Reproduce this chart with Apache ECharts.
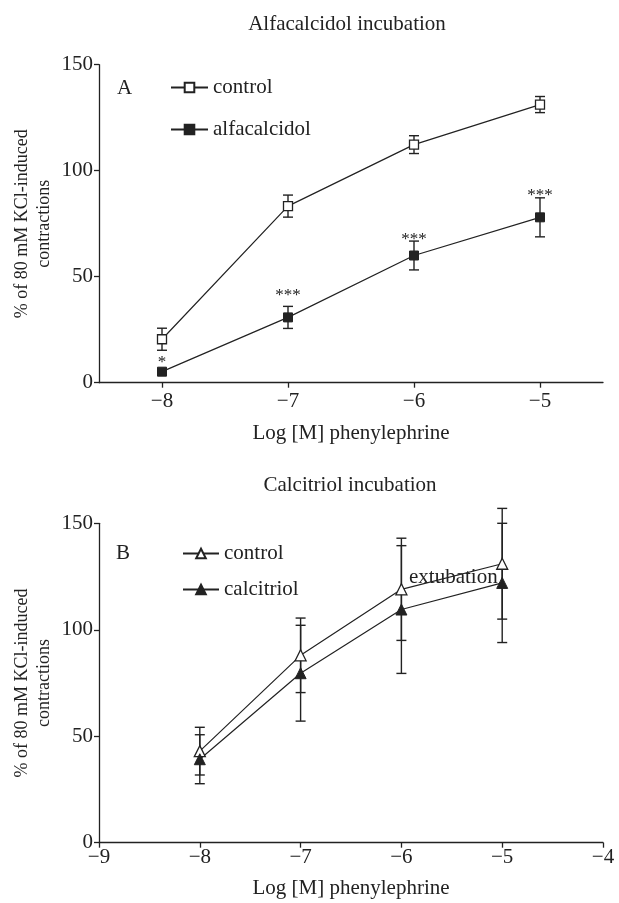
<!DOCTYPE html>
<html lang="en">
<head>
    <meta charset="UTF-8">
    <title>Alfacalcidol / Calcitriol incubation</title>
    <style>
        html, body {
            margin: 0;
            padding: 0;
            background: #fff;
        }
        #chart {
            width: 619px;
            height: 903px;
        }
    </style>
    <script src="https://cdn.jsdelivr.net/npm/echarts@6/dist/echarts.min.js"></script>
</head>
<body>
    <div id="chart"></div>
    <script>
        // panel A data (alfacalcidol)
        const xA = [-8, -7, -6, -5];
        const ctrlA = [20.5, 83.3, 112.3, 131.2];
        const ctrlAErr = [5.2, 5.2, 4.2, 3.8];
        const alfaA = [5.2, 30.8, 60, 78];
        const alfaAErr = [1.2, 5.2, 6.8, 9.2];
        const sigA = ['*', '***', '***', '***'];
        const sigAY = [10.7, 42.5, 68.7, 89.6];
        const xTicksA = [-8, -7, -6, -5];

        // panel B data (calcitriol)
        const xB = [-8, -7, -6, -5];
        const ctrlB = [43, 88, 119, 131];
        const ctrlBErr = [11.2, 17.5, 24, 26];
        const calB = [39.2, 79.6, 109.5, 122];
        const calBErr = [11.5, 22.5, 30, 28];

        const ink = '#222';
        const font = "'Liberation Serif', 'DejaVu Serif', serif";

        const minus = v => String(v).replace('-', '\u2212');

        // error bars: vertical line + caps
        function errorBar(params, api) {
            const x = api.value(0), m = api.value(1), e = api.value(2);
            const hi = api.coord([x, m + e]);
            const lo = api.coord([x, m - e]);
            const w = 5;
            const style = { stroke: ink, lineWidth: 1.4 };
            return {
                type: 'group',
                children: [
                    { type: 'line', shape: { x1: hi[0], y1: hi[1], x2: lo[0], y2: lo[1] }, style },
                    { type: 'line', shape: { x1: hi[0] - w, y1: hi[1], x2: hi[0] + w, y2: hi[1] }, style },
                    { type: 'line', shape: { x1: lo[0] - w, y1: lo[1], x2: lo[0] + w, y2: lo[1] }, style }
                ]
            };
        }

        // significance stars
        function stars(params, api) {
            const p = api.coord([api.value(0), api.value(1)]);
            return {
                type: 'text',
                x: p[0],
                y: p[1] + 2.5,
                style: {
                    text: sigA[params.dataIndex],
                    textAlign: 'center',
                    textVerticalAlign: 'middle',
                    font: '17px ' + font,
                    fill: ink
                }
            };
        }

        const pairs = (xs, ys) => xs.map((x, i) => [x, ys[i]]);
        const errs = (xs, ys, es) => xs.map((x, i) => [x, ys[i], es[i]]);

        const axisCommon = {
            axisLine: { lineStyle: { color: ink, width: 1.3 } },
            axisTick: { lineStyle: { color: ink, width: 1.3 }, length: 5 },
            splitLine: { show: false },
            nameTextStyle: { color: ink, fontFamily: font, fontSize: 21 }
        };

        const yName = '% of 80 mM KCl-induced\ncontractions';
        const txt = { fontSize: 21, fontWeight: 'normal', color: ink, fontFamily: font };

        const chart = echarts.init(document.getElementById('chart'));
        chart.setOption({
            animation: false,
            textStyle: { fontFamily: font, color: ink },
            title: [
                { text: 'Alfacalcidol incubation', left: 347, top: 14, textAlign: 'center', padding: 0, textStyle: txt },
                { text: 'Calcitriol incubation', left: 350, top: 475, textAlign: 'center', padding: 0, textStyle: txt },
                { text: 'A', left: 117, top: 78, padding: 0, textStyle: txt },
                { text: 'B', left: 116, top: 543, padding: 0, textStyle: txt },
                { text: 'extubation', left: 409, top: 567, padding: 0, textStyle: txt }
            ],
            legend: [
                {
                    data: ['control', 'alfacalcidol'],
                    orient: 'vertical',
                    left: 170, top: 77, padding: 0,
                    itemWidth: 37, itemHeight: 12, itemGap: 21,
                    textStyle: { fontSize: 21, color: ink, fontFamily: font },
                    formatter: n => n.trim(),
                    selectedMode: false
                },
                {
                    data: [' control', 'calcitriol'],
                    orient: 'vertical',
                    left: 182, top: 543, padding: 0,
                    itemWidth: 36, itemHeight: 12, itemGap: 15,
                    textStyle: { fontSize: 21, color: ink, fontFamily: font },
                    formatter: n => n.trim(),
                    selectedMode: false
                }
            ],
            grid: [
                { left: 99, right: 16, top: 64.7, height: 318 },
                { left: 99, right: 16, top: 523.3, height: 319.4 }
            ],
            xAxis: [
                Object.assign({}, axisCommon, {
                    gridIndex: 0, type: 'value', min: -8.5, max: -4.5,
                    name: 'Log [M] phenylephrine', nameLocation: 'middle', nameGap: 40,
                    axisTick: { lineStyle: { color: ink, width: 1.3 }, length: 5, customValues: xTicksA },
                    axisLabel: { customValues: xTicksA, formatter: minus, fontSize: 21, color: ink, margin: 8, fontFamily: font }
                }),
                Object.assign({}, axisCommon, {
                    gridIndex: 1, type: 'value', min: -9, max: -4, interval: 1,
                    name: 'Log [M] phenylephrine', nameLocation: 'middle', nameGap: 35,
                    axisLabel: { formatter: minus, fontSize: 21, color: ink, margin: 4, fontFamily: font }
                })
            ],
            yAxis: [
                Object.assign({}, axisCommon, {
                    gridIndex: 0, type: 'value', min: 0, max: 150, interval: 50,
                    name: yName, nameLocation: 'middle', nameGap: 44, nameMoveOverlap: false,
                    nameTextStyle: { color: ink, fontFamily: font, fontSize: 18, lineHeight: 22 },
                    axisLabel: { fontSize: 21, color: ink, margin: 6, fontFamily: font }
                }),
                Object.assign({}, axisCommon, {
                    gridIndex: 1, type: 'value', min: 0, max: 150, interval: 50,
                    name: yName, nameLocation: 'middle', nameGap: 44, nameMoveOverlap: false,
                    nameTextStyle: { color: ink, fontFamily: font, fontSize: 18, lineHeight: 22 },
                    axisLabel: { fontSize: 21, color: ink, margin: 6, fontFamily: font }
                })
            ],
            series: [
                // panel A
                { type: 'custom', xAxisIndex: 0, yAxisIndex: 0, renderItem: errorBar,
                  data: errs(xA, ctrlA, ctrlAErr), encode: { x: 0, y: 1 }, z: 1, silent: true },
                { type: 'custom', xAxisIndex: 0, yAxisIndex: 0, renderItem: errorBar,
                  data: errs(xA, alfaA, alfaAErr), encode: { x: 0, y: 1 }, z: 1, silent: true },
                { name: 'control', type: 'line', xAxisIndex: 0, yAxisIndex: 0,
                  data: pairs(xA, ctrlA), symbol: 'rect', symbolSize: 9, z: 3,
                  lineStyle: { color: ink, width: 1.2 },
                  itemStyle: { color: '#fff', borderColor: ink, borderWidth: 1.3 } },
                { name: 'alfacalcidol', type: 'line', xAxisIndex: 0, yAxisIndex: 0,
                  data: pairs(xA, alfaA), symbol: 'rect', symbolSize: 9, z: 3,
                  lineStyle: { color: ink, width: 1.2 },
                  itemStyle: { color: ink, borderColor: ink, borderWidth: 1 } },
                { type: 'custom', xAxisIndex: 0, yAxisIndex: 0, renderItem: stars,
                  data: pairs(xA, sigAY), encode: { x: 0, y: 1 }, z: 4, silent: true },

                // panel B
                { type: 'custom', xAxisIndex: 1, yAxisIndex: 1, renderItem: errorBar,
                  data: errs(xB, ctrlB, ctrlBErr), encode: { x: 0, y: 1 }, z: 1, silent: true },
                { type: 'custom', xAxisIndex: 1, yAxisIndex: 1, renderItem: errorBar,
                  data: errs(xB, calB, calBErr), encode: { x: 0, y: 1 }, z: 1, silent: true },
                { name: ' control', type: 'line', xAxisIndex: 1, yAxisIndex: 1,
                  data: pairs(xB, ctrlB), symbol: 'triangle', symbolSize: 11, z: 3,
                  lineStyle: { color: ink, width: 1.2 },
                  itemStyle: { color: '#fff', borderColor: ink, borderWidth: 1.3 } },
                { name: 'calcitriol', type: 'line', xAxisIndex: 1, yAxisIndex: 1,
                  data: pairs(xB, calB), symbol: 'triangle', symbolSize: 11, z: 3,
                  lineStyle: { color: ink, width: 1.2 },
                  itemStyle: { color: ink, borderColor: ink, borderWidth: 1 } }
            ]
        });
    </script>
</body>
</html>
